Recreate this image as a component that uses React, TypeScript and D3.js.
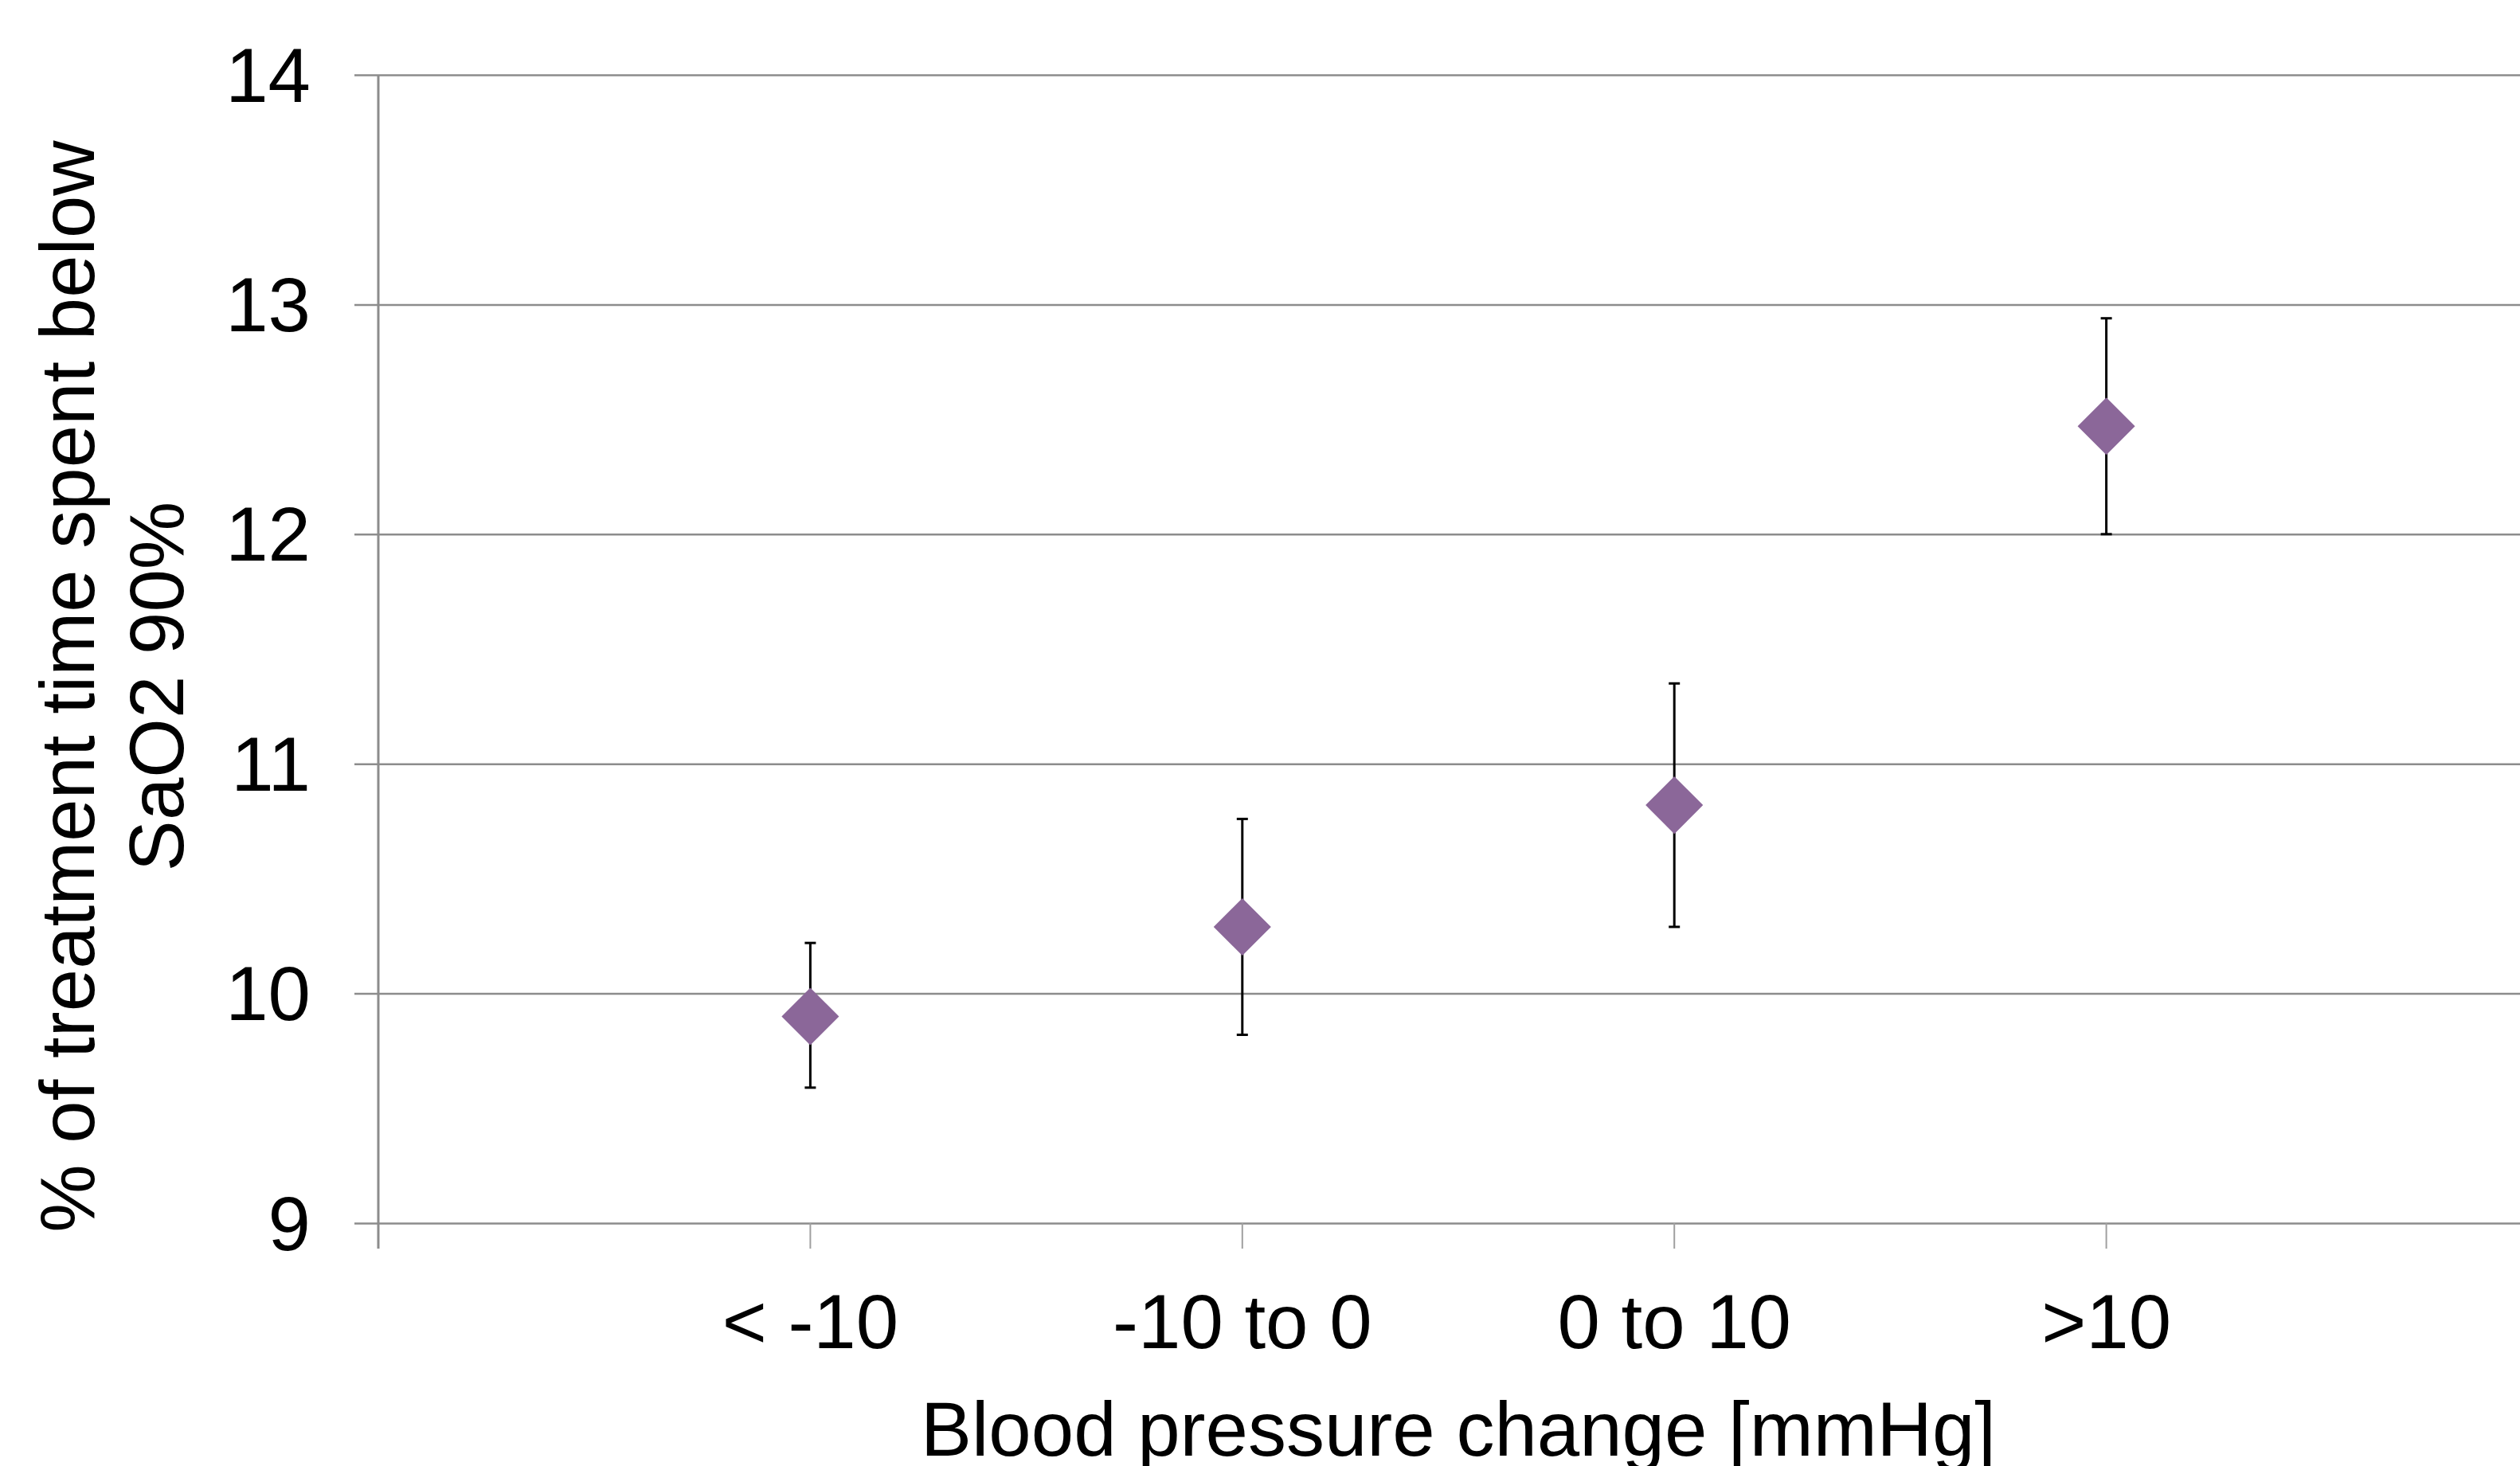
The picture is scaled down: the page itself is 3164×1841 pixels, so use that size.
import { useRef, useEffect } from 'react';
import * as d3 from 'd3';

const WIDTH = 3164;
const HEIGHT = 1841;

const categories = ['< -10', '-10 to 0', '0 to 10', '>10'];
const means = [9.9, 10.29, 10.82, 12.47];
const upper = [10.22, 10.76, 11.35, 12.94];
const lower = [9.59, 9.82, 10.29, 12.0];
const yTicks = [9, 10, 11, 12, 13, 14];
const yTitle = ['% of treatment time spent below', 'SaO2 90%'];
const xTitle = 'Blood pressure change [mmHg]';

const FONT = '"Liberation Sans", Arial, sans-serif';
const GRID = '#8c8c8c';
const MARKER = '#8b6799';

export default function App() {
  const svgRef = useRef<SVGSVGElement>(null);

  useEffect(() => {
    const svg = d3.select(svgRef.current);
    svg.selectAll('*').remove();

    // x is a 0..5 scatter axis, categories sit at 1..4; the right end is cropped
    const x = d3.scaleLinear().domain([0, 5]).range([475, 3187]);
    const y = d3.scaleLinear().domain([9, 14]).range([1536, 94]);
    const left = x(0);
    const bottom = y(9);

    // Gridlines (with the short outside tick to the left of the axis)
    const grid = svg.append('g')
      .attr('transform', `translate(${left},0)`)
      .call(d3.axisLeft(y).tickValues(yTicks).tickFormat(() => '').tickSizeOuter(0));
    grid.select('.domain').remove();
    grid.selectAll('.tick line')
      .attr('x1', -30).attr('x2', WIDTH - left)
      .attr('stroke', GRID).attr('stroke-width', 2.5);

    // Y axis line
    svg.append('line')
      .attr('x1', left).attr('x2', left)
      .attr('y1', y(14)).attr('y2', bottom + 32)
      .attr('stroke', GRID).attr('stroke-width', 3);

    // Category tick marks
    svg.append('g').selectAll('line')
      .data(categories)
      .join('line')
      .attr('x1', (_, i) => x(i + 1)).attr('x2', (_, i) => x(i + 1))
      .attr('y1', bottom).attr('y2', bottom + 32)
      .attr('stroke', '#a0a0a0').attr('stroke-width', 2);

    // Y tick labels
    svg.append('g').selectAll('text')
      .data(yTicks)
      .join('text')
      .attr('x', 390).attr('y', d => y(d)).attr('dy', '0.35em')
      .attr('text-anchor', 'end')
      .attr('font-family', FONT).attr('font-size', 96).attr('fill', '#000')
      .text(d => d);

    // X category labels
    svg.append('g').selectAll('text')
      .data(categories)
      .join('text')
      .attr('x', (_, i) => x(i + 1)).attr('y', 1693)
      .attr('text-anchor', 'middle')
      .attr('font-family', FONT).attr('font-size', 96).attr('fill', '#000')
      .text(d => d);

    // Error bars
    const eb = svg.append('g').attr('stroke', '#000').attr('stroke-width', 3);
    categories.forEach((_, i) => {
      const cx = x(i + 1);
      eb.append('line').attr('x1', cx).attr('x2', cx).attr('y1', y(upper[i])).attr('y2', y(lower[i]));
      eb.append('line').attr('x1', cx - 7).attr('x2', cx + 7).attr('y1', y(upper[i])).attr('y2', y(upper[i]));
      eb.append('line').attr('x1', cx - 7).attr('x2', cx + 7).attr('y1', y(lower[i])).attr('y2', y(lower[i]));
    });

    // Diamond markers
    const diamond = d3.symbol().type(d3.symbolSquare).size(2600);
    svg.append('g').selectAll('path')
      .data(means)
      .join('path')
      .attr('d', diamond() as string)
      .attr('transform', (d, i) => `translate(${x(i + 1)},${y(d)}) rotate(45)`)
      .attr('fill', MARKER);

    // Axis titles
    svg.append('text')
      .attr('x', (x(0) + x(5)) / 2).attr('y', 1828)
      .attr('text-anchor', 'middle')
      .attr('font-family', FONT).attr('font-size', 96).attr('fill', '#000')
      .text(xTitle);

    const yt = svg.append('text')
      .attr('transform', 'translate(0,862) rotate(-90)')
      .attr('text-anchor', 'middle')
      .attr('font-family', FONT).attr('font-size', 96).attr('fill', '#000');
    yt.selectAll('tspan')
      .data(yTitle)
      .join('tspan')
      .attr('x', 0).attr('y', (_, i) => 118 + i * 112)
      .text(d => d);
  }, []);

  return (
    <svg
      ref={svgRef}
      width={WIDTH}
      height={HEIGHT}
      style={{ position: 'absolute', left: 0, top: 0, background: '#fff', display: 'block' }}
    />
  );
}
